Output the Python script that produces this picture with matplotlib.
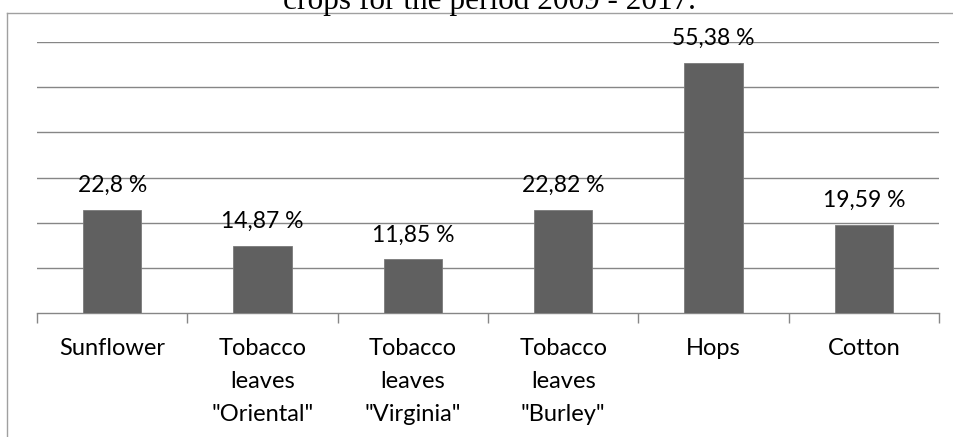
import numpy as np
import matplotlib
matplotlib.use('Agg')
import matplotlib.pyplot as plt
from matplotlib.lines import Line2D

crops = ['Sunflower', 'Tobacco\nleaves\n"Oriental"', 'Tobacco\nleaves\n"Virginia"',
         'Tobacco\nleaves\n"Burley"', 'Hops', 'Cotton']
shares = [22.8, 14.87, 11.85, 22.82, 55.38, 19.59]
share_labels = ['22,8 %', '14,87 %', '11,85 %', '22,82 %', '55,38 %', '19,59 %']
title_tail = 'crops for the period 2009 - 2017.'

plt.rcParams['font.family'] = ['Lato', 'DejaVu Sans']

fig = plt.figure(figsize=(9.54, 4.37), dpi=100)
ax = fig.add_axes([37/954, 1 - 313/437, (939 - 37)/954, (313 - 42)/437])

x = np.arange(len(crops))
ax.bar(x, shares, width=0.39, color='#606060', edgecolor='#7a7a7a', linewidth=0.6, zorder=3)

for xi, v, lab in zip(x, shares, share_labels):
    ax.annotate(lab, (xi, v), xytext=(0, 13), textcoords='offset points',
                ha='center', va='baseline', fontsize=16.5, color='black')

ax.set_xlim(-0.5, len(crops) - 0.5)
ax.set_ylim(0, 60)
ax.set_yticks(np.arange(10, 61, 10))
ax.yaxis.grid(True, color='#868686', linewidth=1.0)
ax.tick_params(axis='y', left=False, labelleft=False)

ax.set_xticks(x)
ax.set_xticklabels(crops, fontsize=17, linespacing=1.7)
ax.set_xticks(np.arange(-0.5, len(crops), 1), minor=True)
ax.tick_params(axis='x', which='major', length=0, pad=18)
ax.tick_params(axis='x', which='minor', length=7, width=1.0, color='#868686')

for s in ['top', 'right', 'left']:
    ax.spines[s].set_visible(False)
ax.spines['bottom'].set_color('#868686')
ax.spines['bottom'].set_linewidth(1.0)

# outer frame (left and top edges of the chart area)
fig.add_artist(Line2D([7/954, 7/954], [0, 1 - 13/437], transform=fig.transFigure,
                      color='#a0a0a0', linewidth=1.0))
fig.add_artist(Line2D([7/954, 1], [1 - 13/437, 1 - 13/437], transform=fig.transFigure,
                      color='#a0a0a0', linewidth=1.0))

# cut-off title line at the top
fig.text(489/954, 1 - 9/437, title_tail, ha='center', va='baseline',
         fontsize=22.5, family='Liberation Serif', color='black')

fig.savefig('out.png', dpi=100)
